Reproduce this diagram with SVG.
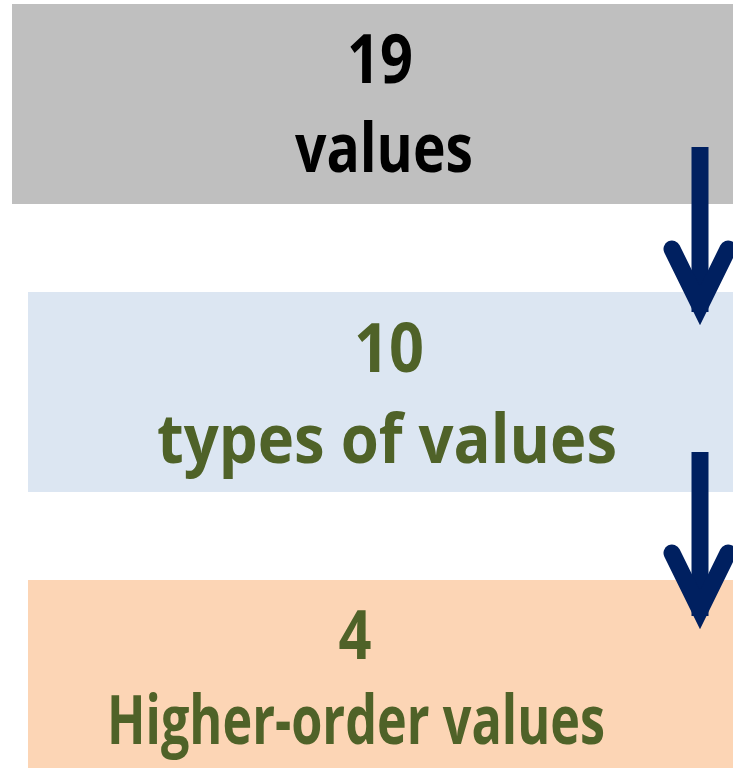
<svg xmlns="http://www.w3.org/2000/svg" width="733" height="768" viewBox="0 0 733 768">
<style>
text{font-family:"Open Sans","Liberation Sans",sans-serif;font-weight:bold;font-size:68px;text-anchor:middle}
.g{fill:#4F6228}
.k{fill:#000}
.arr{fill:none;stroke:#002060;stroke-width:17}
.wing{fill:none;stroke:#002060;stroke-width:17;stroke-linecap:round;stroke-linejoin:miter;stroke-miterlimit:10}
</style>
<rect width="733" height="768" fill="#fff"/>
<g id="node1">
<rect x="12" y="4" width="721" height="200" fill="#BFBFBF"/>
<text class="k" x="380" y="83" textLength="66" lengthAdjust="spacingAndGlyphs">19</text>
<text class="k" x="384" y="172" textLength="178" lengthAdjust="spacingAndGlyphs">values</text>
</g>
<g id="node2">
<rect x="28" y="292" width="705" height="200" fill="#DCE6F2"/>
<text class="g" x="389" y="372" textLength="70" lengthAdjust="spacingAndGlyphs">10</text>
<text class="g" x="387" y="463" textLength="460" lengthAdjust="spacingAndGlyphs">types of values</text>
</g>
<g id="node3">
<rect x="28" y="580" width="705" height="188" fill="#FCD5B5"/>
<text class="g" x="355" y="659" textLength="33" lengthAdjust="spacingAndGlyphs">4</text>
<text class="g" x="356" y="744" textLength="498" lengthAdjust="spacingAndGlyphs">Higher-order values</text>
</g>
<g id="connectors">
<line class="arr" x1="700" y1="147" x2="700" y2="312"/>
<polyline class="wing" points="672,249 700,306 728,249"/>
<line class="arr" x1="700" y1="452" x2="700" y2="616"/>
<polyline class="wing" points="672,553 700,610 728,553"/>
</g>
</svg>
